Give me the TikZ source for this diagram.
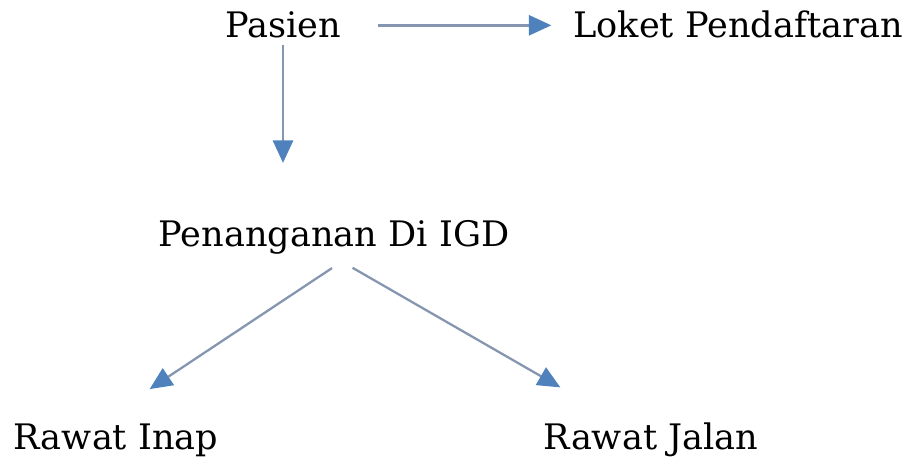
\documentclass[tikz,border=0pt]{standalone}
\usepackage{fontspec}
\setmainfont{DejaVu Serif}
\usepackage{tikz}
\usetikzlibrary{positioning,calc,arrows.meta}
\definecolor{shaftgray}{HTML}{8696B0}
\definecolor{headblue}{HTML}{4F81BD}
\tikzset{lbl/.style={inner sep=0pt, outer sep=0pt, anchor=base, font=\fontsize{20}{24}\selectfont}}
\tikzset{arr/.style={draw=shaftgray, line width=1.6pt, -{Triangle[length=0.45cm, width=0.4cm, color=headblue, fill=headblue]}}}

\begin{document}
\begin{tikzpicture}[x=0.02cm, y=-0.02cm]
            \useasboundingbox (0,0) rectangle (913,459);
            \node[lbl] (pasien) at (283,38) {Pasien};
            \node[lbl] (loket) at (738,38) {Loket Pendaftaran};
            \node[lbl] (igd) at (334,247) {Penanganan Di IGD};
            \node[lbl] (inap) at (116,449) {Rawat Inap};
            \node[lbl] (jalan) at (651,449) {Rawat Jalan};
            % top row
            \draw[arr, shorten <=0.74cm, shorten >=0.44cm]
                (pasien.east) -- (pasien.east -| loket.west);
            \draw[arr, shorten <=0.14cm, shorten >=1.16cm]
                (pasien.south) -- (pasien.south |- igd.north);
            % split below IGD
            \draw[arr, line width=1.3pt, shorten <=0.48cm, shorten >=1.24cm]
                ([xshift=0.36cm]igd.south) -- ([xshift=-0.36cm]inap.north);
            \draw[arr, line width=1.3pt, shorten <=0.52cm, shorten >=1.4cm]
                ([xshift=-0.08cm]igd.south) -- ([xshift=-0.6cm]jalan.north);
        \end{tikzpicture}
\end{document}
